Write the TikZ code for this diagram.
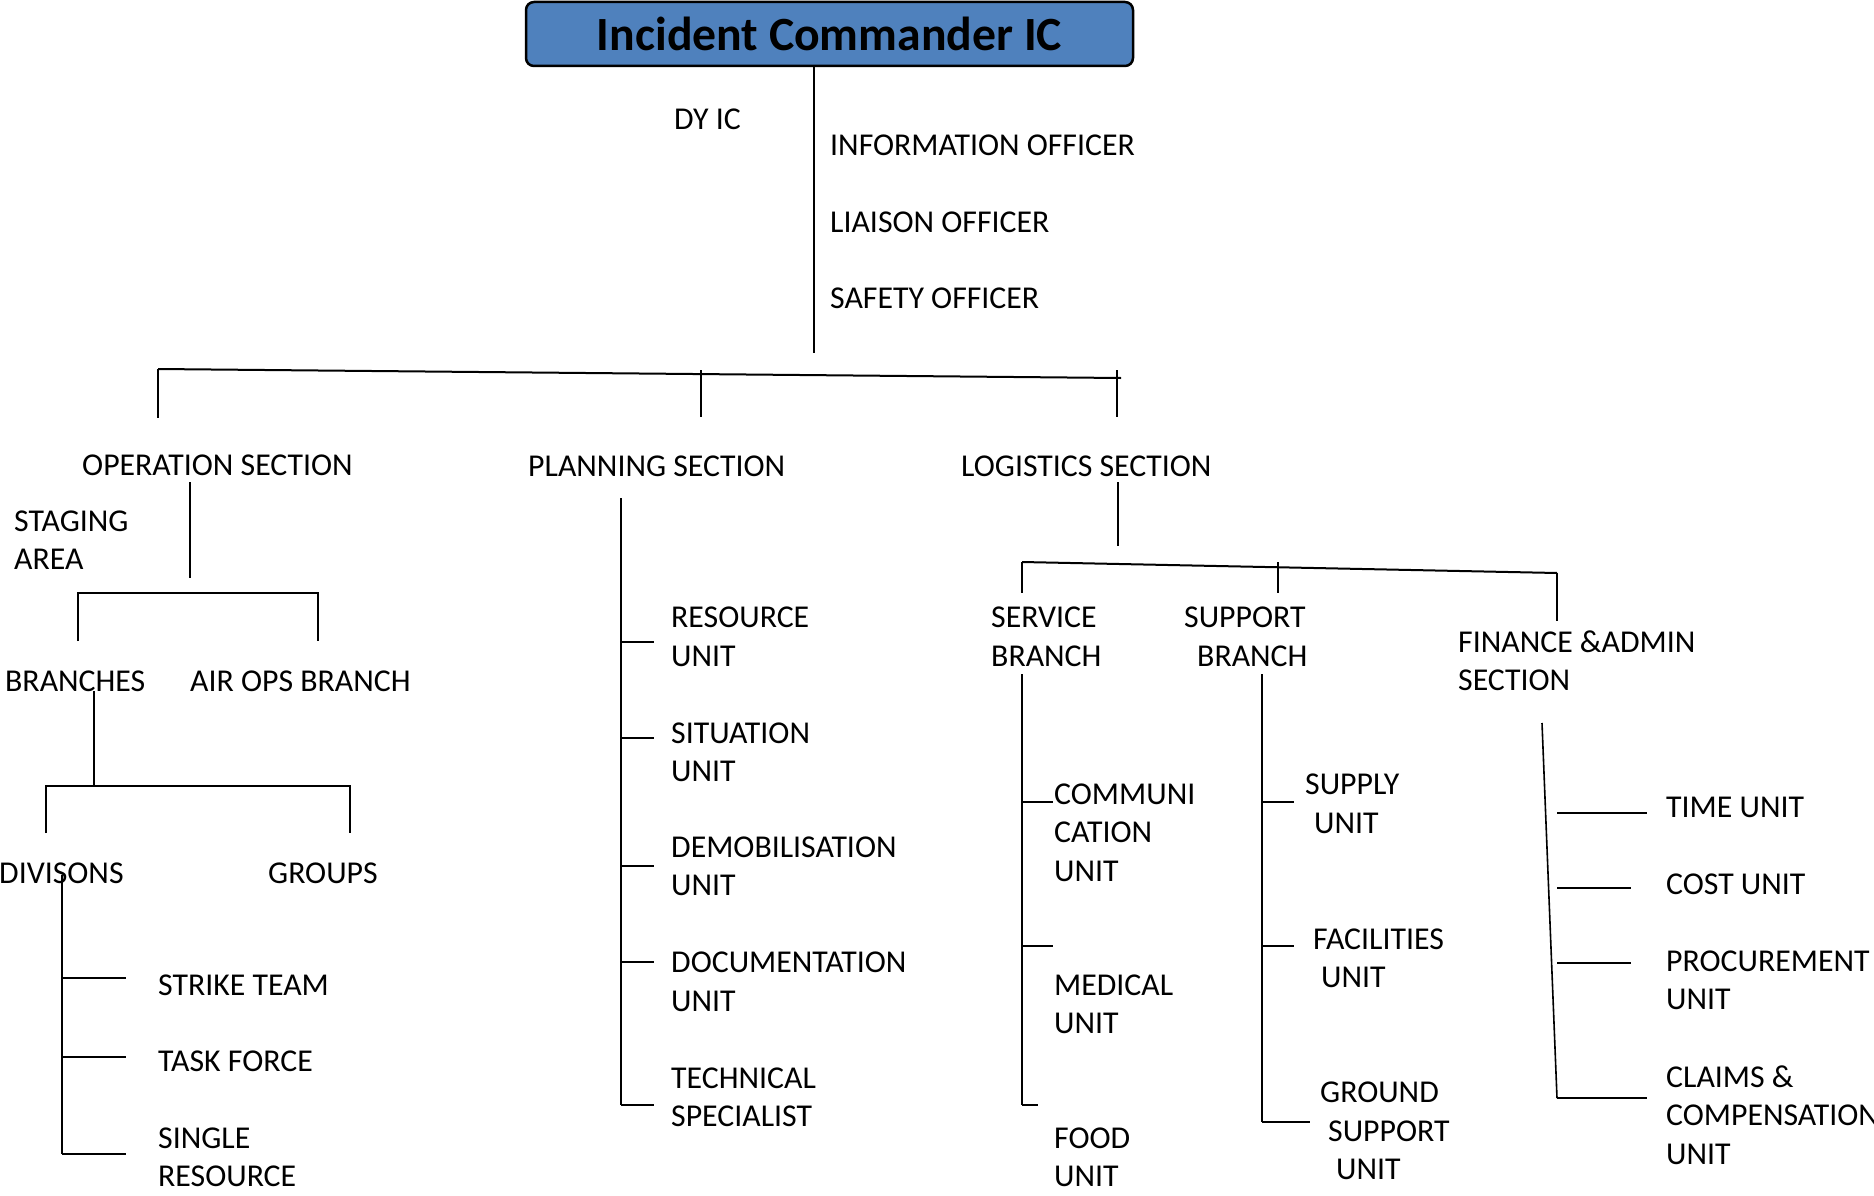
\documentclass[tikz,border=0pt]{standalone}
\usepackage{fontspec}
\setmainfont{Carlito}
\definecolor{icblue}{HTML}{4F81BD}
\begin{document}
\begin{tikzpicture}[x=1pt,y=-1pt,
  lbl/.style={anchor=west, inner sep=0pt, align=left, yshift=-1.5pt, font=\fontsize{31.8}{38.5}\selectfont},
  ln/.style={line width=2pt},
  thin/.style={line width=1.6pt},
  titlebox/.style={draw=black, line width=2.5pt, fill=icblue, rounded corners=8pt,
     minimum width=607pt, minimum height=64pt, inner sep=0pt,
     font=\fontsize{47.7}{50}\selectfont\bfseries}]
\useasboundingbox (0,0) rectangle (1874,1196);
\clip (0,0) rectangle (1874,1196);

% title
\node[titlebox] (ic) at (829.5,34) {Incident Commander IC};

% command staff labels
\node[lbl] (dyic) at (674,118) {DY IC};
\node[lbl] (info) at (830,144) {INFORMATION OFFICER};
\node[lbl] (liaison) at (830,221) {LIAISON OFFICER};
\node[lbl] (safety) at (830,297) {SAFETY OFFICER};

% sections
\node[lbl] (ops) at (82,464) {OPERATION SECTION};
\node[lbl] (plan) at (528,465) {PLANNING SECTION};
\node[lbl] (log) at (961,465) {LOGISTICS SECTION};

% operations subtree
\node[lbl] (staging) at (14,538.5) {STAGING\\AREA};
\node[lbl] (branches) at (5,680) {BRANCHES};
\node[lbl] (airops) at (190,680) {AIR OPS BRANCH};
\node[lbl] (div) at (-1,872) {DIVISONS};
\node[lbl] (groups) at (268,872) {GROUPS};
\node[lbl] (strike) at (158,984) {STRIKE TEAM};
\node[lbl] (task) at (158,1060) {TASK FORCE};
\node[lbl] (single) at (158,1156) {SINGLE\\RESOURCE};

% planning subtree
\node[lbl] (resu) at (671,635.5) {RESOURCE\\UNIT};
\node[lbl] (situ) at (671,751) {SITUATION\\UNIT};
\node[lbl] (demob) at (671,865) {DEMOBILISATION\\UNIT};
\node[lbl] (docu) at (671,980.5) {DOCUMENTATION\\UNIT};
\node[lbl] (tech) at (671,1096) {TECHNICAL\\SPECIALIST};

% logistics subtree
\node[lbl] (service) at (991,635.5) {SERVICE\\BRANCH};
\node[lbl] (support) at (1184,635.5) {SUPPORT\\\hspace*{13pt}BRANCH};
\node[lbl] (finance) at (1458,659) {FINANCE \&ADMIN\\SECTION};
\node[lbl] (comm) at (1054,831) {COMMUNI\\CATION\\UNIT};
\node[lbl] (medical) at (1054,1003) {MEDICAL\\UNIT};
\node[lbl] (food) at (1054,1156) {FOOD\\UNIT};
\node[lbl] (supply) at (1305,802.5) {SUPPLY\\\hspace*{9pt}UNIT};
\node[lbl] (facil) at (1313,957) {FACILITIES\\\hspace*{8pt}UNIT};
\node[lbl] (ground) at (1320,1129.5) {GROUND\\\hspace*{8pt}SUPPORT\\\hspace*{16pt}UNIT};
\node[lbl] (time) at (1666,806) {TIME UNIT};
\node[lbl] (cost) at (1666,883) {COST UNIT};
\node[lbl] (proc) at (1666,979) {PROCUREMENT\\UNIT};
\node[lbl] (claims) at (1666,1113.5) {CLAIMS \&\\COMPENSATION\\UNIT};

% ---- connectors ----
% IC trunk
\coordinate (ictop) at (814,66);
\coordinate (icbot) at (814,353);
\draw[thin] (ictop) -- (icbot);

% section bar (slightly slanted)
\coordinate (barL) at (158,369);
\coordinate (barR) at (1121,378);
\draw[ln] (barL) -- (barR);
\draw[ln] (barL) -- (158,418) coordinate (opsTop);
\draw[thin] (701,370) -- (701,417) coordinate (planTop);
\draw[thin] (1117,370) -- (1117,417) coordinate (logTop);

% operations
\draw[ln] (190,482) coordinate (opsDown) -- (190,578);
\draw[ln] (78,641) coordinate (brT) -- (78,593) -- (318,593) -- (318,641) coordinate (airT);
\draw[ln] (94,691) coordinate (brDown) -- (94,785);
\draw[ln] (46,833) coordinate (divT) -- (46,786) -- (350,786) -- (350,833) coordinate (grpT);
\draw[ln] (62,875) coordinate (divDown) -- (62,1154);
\foreach \y in {978,1057,1154} \draw[ln] (62,\y) -- (126,\y);

% planning
\draw[ln] (621,498) coordinate (planDown) -- (621,1105);
\foreach \y in {642,738,866,962,1105} \draw[ln] (621,\y) -- (654,\y);

% logistics
\draw[ln] (1118,482) coordinate (logDown) -- (1118,546);
\coordinate (lbarL) at (1022,562);
\coordinate (lbarR) at (1557,573);
\draw[ln] (lbarL) -- (lbarR);
\draw[ln] (lbarL) -- (1022,593);
\draw[ln] (1278,562) -- (1278,593);
\draw[ln] (lbarR) -- (1557,621);

% service branch
\draw[ln] (1022,674) -- (1022,1105);
\draw[ln] (1022,802) -- (1053,802);
\draw[ln] (1022,946) -- (1053,946);
\draw[ln] (1022,1105) -- (1038,1105);

% support branch
\draw[ln] (1262,674) -- (1262,1122);
\draw[ln] (1262,802) -- (1294,802);
\draw[ln] (1262,946) -- (1294,946);
\draw[ln] (1262,1122) -- (1310,1122);

% finance
\coordinate (finTop) at (1542,723);
\coordinate (finBot) at (1557,1098);
\draw[thin] (finTop) -- (finBot);
\draw[ln] (1557,813) -- (1647,813);
\draw[ln] (1557,888) -- (1631,888);
\draw[ln] (1557,963) -- (1631,963);
\draw[ln] (finBot) -- (1647,1098);
\end{tikzpicture}
\end{document}
